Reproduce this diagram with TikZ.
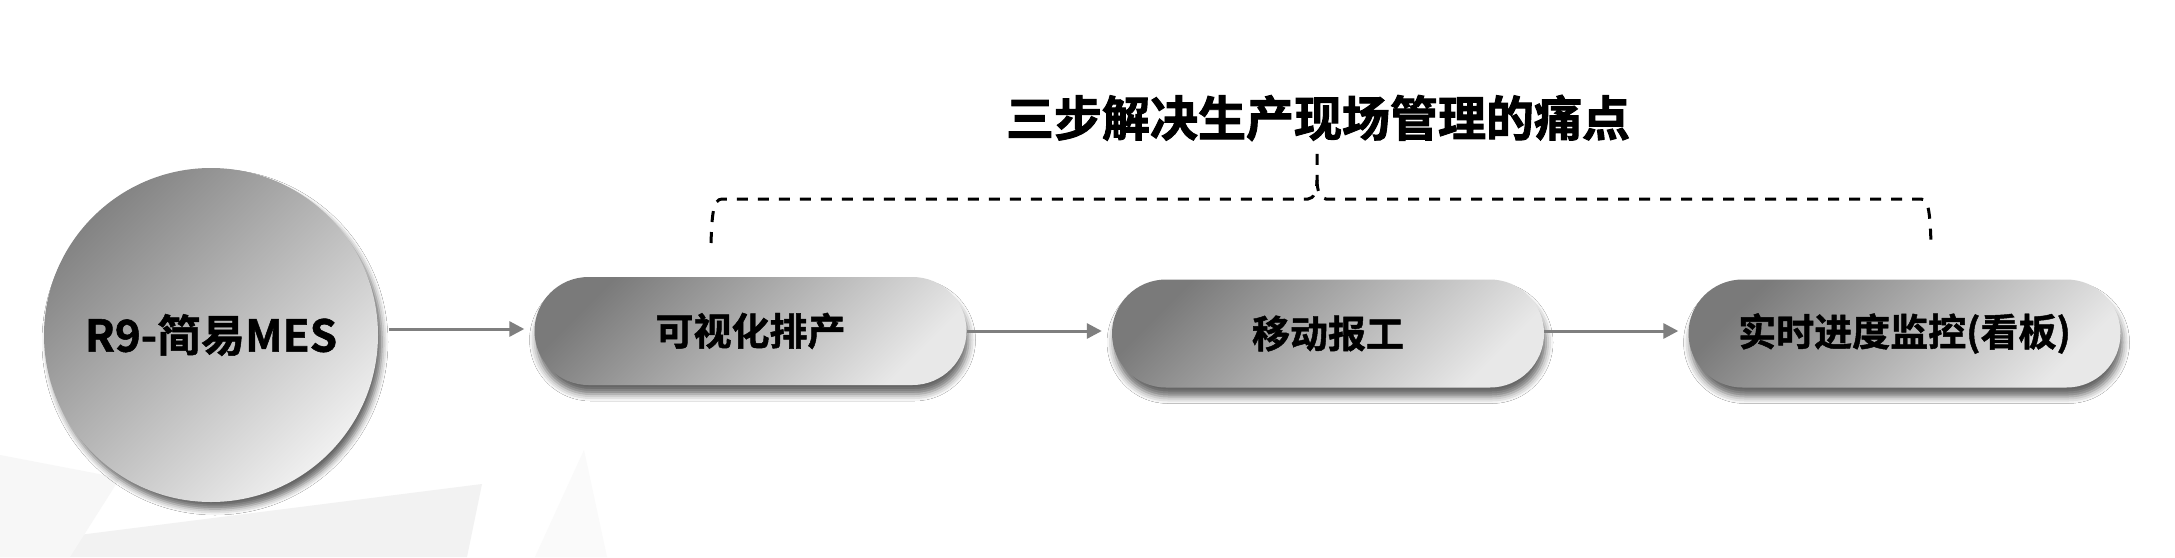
\documentclass[tikz,border=0pt]{standalone}
\usepackage{fontspec}
\setmainfont{Noto Sans CJK SC}[BoldFont={Noto Sans CJK SC Bold}, BoldFeatures={FakeBold=1.2}]
\newfontfamily\titlefont{Noto Sans CJK SC Bold}[FakeBold=2]
\usetikzlibrary{arrows.meta,shadows.blur}
\definecolor{gdark}{HTML}{7A7A7A}
\definecolor{glight}{HTML}{E8E8E8}
\definecolor{cdark}{HTML}{838383}
\definecolor{clight}{HTML}{F0F0F0}
\definecolor{arrowgray}{HTML}{7F7F7F}
\tikzset{
  pill/.style={rounded corners=54pt, minimum width=432pt, minimum height=108pt,
    inner sep=0pt, top color=gdark, bottom color=glight, shading angle=45,
    blur shadow={shadow xshift=2pt, shadow yshift=-9pt, shadow blur radius=7pt, shadow opacity=60},
    font=\bfseries\fontsize{38}{44}\selectfont},
  bigdisc/.style={circle, minimum size=334pt, inner sep=0pt, top color=cdark, bottom color=clight,
    shading angle=45,
    blur shadow={shadow xshift=4pt, shadow yshift=-7pt, shadow blur radius=6pt, shadow opacity=60},
    font=\bfseries\fontsize{44}{50}\selectfont},
  flow/.style={draw=arrowgray, line width=3pt, -{Triangle[length=15pt,width=15pt]}},
  bracestyle/.style={draw=black, line width=3pt, dash pattern=on 11pt off 10pt},
}
\begin{document}
\begin{tikzpicture}[x=1pt,y=-1pt]
\useasboundingbox (0,0) rectangle (2175,557);
\fill[white] (0,0) rectangle (2175,557);
% faint background facets
\fill[black!5] (0,545) -- (482,484) -- (467,557) -- (0,557) -- cycle;
\fill[black!3] (0,455) -- (120,478) -- (70,557) -- (0,557) -- cycle;
\fill[black!2] (535,557) -- (584,450) -- (607,557) -- cycle;
% title and brace
\node[font=\titlefont\fontsize{48}{54}\selectfont] (title) at (1318,118) {三步解决生产现场管理的痛点};
\coordinate (bl) at (711,243);
\coordinate (br) at (1931,243);
\coordinate (bm) at (1317,180);
\coordinate (bt) at (1317,145);
\draw[bracestyle] (bl) .. controls (712,215) and (713,199) .. (722,199) -- (1308,199)
  .. controls (1314,199) and (1317,190) .. (bm) -- (bt);
\draw[bracestyle] (bm) .. controls (1317,190) and (1320,199) .. (1326,199) -- (1921,199)
  .. controls (1929,199) and (1930,215) .. (br);
% nodes
\node[bigdisc] (mes) at (211,335) {R9-简易MES};
\node[pill] (s1) at (750.5,331) {可视化排产};
\node[pill] (s2) at (1328,333.5) {移动报工};
\node[pill] (s3) at (1904.5,333.5) {实时进度监控(看板)};
% connectors
\draw[flow, shorten <=11pt, shorten >=10pt] (mes.east |- 0,329) -- (s1.west |- 0,329);
\draw[flow, shorten >=10pt] (s1.east |- 0,331) -- (s2.west |- 0,331);
\draw[flow, shorten >=10pt] (s2.east |- 0,331) -- (s3.west |- 0,331);
\end{tikzpicture}
\end{document}
